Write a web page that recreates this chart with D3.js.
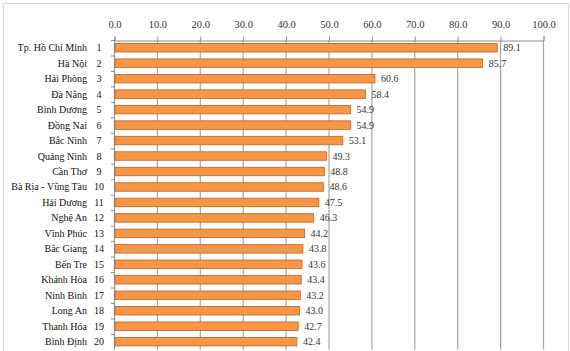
<!DOCTYPE html>
<html>
<head>
<meta charset="utf-8">
<script src="https://cdn.jsdelivr.net/npm/d3@7"></script>
<style>
  html, body { margin: 0; padding: 0; background: #fff; }
  svg { display: block; }
</style>
</head>
<body>
<div id="chart"></div>
<script>
// provinces ranked, with their index values
const provinces = ["Tp. Hồ Chí Minh", "Hà Nội", "Hải Phòng", "Đà Nẵng", "Bình Dương", "Đồng Nai",
  "Bắc Ninh", "Quảng Ninh", "Cần Thơ", "Bà Rịa - Vũng Tàu", "Hải Dương", "Nghệ An", "Vĩnh Phúc",
  "Bắc Giang", "Bến Tre", "Khánh Hòa", "Ninh Bình", "Long An", "Thanh Hóa", "Bình Định"];
const ranks = [1, 2, 3, 4, 5, 6, 7, 8, 9, 10, 11, 12, 13, 14, 15, 16, 17, 18, 19, 20];
const values = [89.1, 85.7, 60.6, 58.4, 54.9, 54.9, 53.1, 49.3, 48.8, 48.6, 47.5, 46.3, 44.2,
  43.8, 43.6, 43.4, 43.2, 43.0, 42.7, 42.4];
const xTicks = [0, 10, 20, 30, 40, 50, 60, 70, 80, 90, 100];

const W = 570, H = 351;
const margin = { top: 40, left: 114, right: 27 };
const rowH = 15.47;
const serif = "'Liberation Serif', 'DejaVu Serif', serif";

const svg = d3.select("#chart").append("svg").attr("width", W).attr("height", H);

// outer chart border
svg.append("rect").attr("x", 3.5).attr("y", 3.5).attr("width", 565).attr("height", 360)
  .attr("fill", "none").attr("stroke", "#d9d9d9");

const x = d3.scaleLinear().domain([0, 100]).range([margin.left, W - margin.right]);
const y = d3.scaleBand().domain(ranks).range([margin.top, margin.top + rowH * ranks.length])
  .paddingInner(0.45).paddingOuter(0.225);
const yb = d3.scaleBand().domain(ranks).range([margin.top, margin.top + rowH * ranks.length]);
const bottom = margin.top + rowH * ranks.length;

// vertical grid
svg.append("g").selectAll("line").data(xTicks.slice(1)).join("line")
  .attr("x1", (d) => x(d) + 0.5).attr("x2", (d) => x(d) + 0.5)
  .attr("y1", margin.top).attr("y2", bottom)
  .attr("stroke", "#a6a6a6").attr("stroke-width", 1.2);

// top axis
const gx = svg.append("g").attr("transform", `translate(0.5,${margin.top + 0.5})`)
  .call(d3.axisTop(x).tickValues(xTicks).tickFormat(d3.format(".1f")).tickSize(4).tickPadding(9));
gx.attr("font-family", serif);
gx.select(".domain").attr("stroke", "#8c8c8c");
gx.selectAll(".tick line").attr("stroke", "#8c8c8c");
gx.selectAll("text").style("font-family", serif).attr("font-size", 10.5).attr("fill", "#333");

// left axis line with band ticks
svg.append("line").attr("x1", margin.left + 0.5).attr("x2", margin.left + 0.5)
  .attr("y1", margin.top).attr("y2", bottom).attr("stroke", "#8c8c8c");
svg.append("g").selectAll("line").data(ranks).join("line")
  .attr("x1", margin.left - 3).attr("x2", margin.left)
  .attr("y1", (d) => yb(d) + 0.5).attr("y2", (d) => yb(d) + 0.5)
  .attr("stroke", "#8c8c8c");

// bars
svg.append("g").selectAll("rect").data(values).join("rect")
  .attr("x", x(0) + 1).attr("y", (d, i) => y(ranks[i]))
  .attr("width", (d) => x(d) - x(0)).attr("height", y.bandwidth())
  .attr("fill", "#f79646").attr("stroke", "#c0621e").attr("stroke-width", 0.8);

// value labels
svg.append("g").selectAll("text").data(values).join("text")
  .attr("x", (d) => x(d) + 7).attr("y", (d, i) => yb(ranks[i]) + yb.bandwidth() / 2)
  .attr("dy", "0.35em").style("font-family", serif).attr("font-size", 10).attr("fill", "#333")
  .text((d) => d.toFixed(1));

// province names and ranks
svg.append("g").selectAll("text").data(provinces).join("text")
  .attr("x", 87).attr("y", (d, i) => yb(ranks[i]) + yb.bandwidth() / 2)
  .attr("dy", "0.35em").attr("text-anchor", "end").style("font-family", serif)
  .attr("font-size", 10).attr("fill", "#111")
  .text((d) => d);
svg.append("g").selectAll("text").data(ranks).join("text")
  .attr("x", 99).attr("y", (d) => yb(d) + yb.bandwidth() / 2)
  .attr("dy", "0.35em").attr("text-anchor", "middle").style("font-family", serif)
  .attr("font-size", 10).attr("fill", "#111")
  .text((d) => d);
</script>
</body>
</html>
